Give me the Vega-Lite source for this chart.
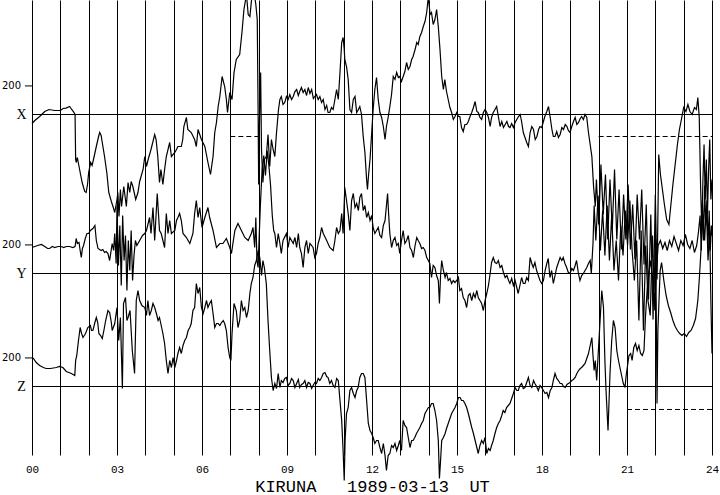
{"$schema":"https://vega.github.io/schema/vega-lite/v6.json","width":680,"height":455,"autosize":{"type":"none"},"padding":{"left":32,"top":0,"right":8,"bottom":40},"background":"white",
"config":{"view":{"stroke":null},"axisX":{"values":[0,1,2,3,4,5,6,7,8,9,10,11,12,13,14,15,16,17,18,19,20,21,22,23,24],"grid":true,"gridColor":"black","gridOpacity":1,"gridWidth":1,"domain":false,"ticks":false,"labelExpr":"datum.value % 3 === 0 ? (datum.value < 10 ? '0' + datum.value : '' + datum.value) : ''","labelFont":"Liberation Mono","labelFontSize":11,"labelColor":"black","labelPadding":8,"labelFlush":false,"labelOverlap":false,"labelBound":false,"titleFont":"Liberation Mono","titleFontSize":17,"titleFontWeight":"normal","titleColor":"black","titlePadding":4}},
"datasets":{
"X":[{"h":0,"v":-63},{"h":0.1,"v":-42},{"h":0.27,"v":-14},{"h":0.45,"v":21},{"h":0.6,"v":35},{"h":0.8,"v":28},{"h":1,"v":28},{"h":1.1,"v":42},{"h":1.2,"v":45},{"h":1.33,"v":56},{"h":1.4,"v":35},{"h":1.46,"v":21},{"h":1.52,"v":0},{"h":1.54,"v":-315},{"h":1.56,"v":-336},{"h":1.6,"v":-301},{"h":1.68,"v":-385},{"h":1.77,"v":-476},{"h":1.86,"v":-539},{"h":1.91,"v":-546},{"h":1.96,"v":-490},{"h":2,"v":-406},{"h":2.07,"v":-336},{"h":2.12,"v":-357},{"h":2.17,"v":-315},{"h":2.27,"v":-224},{"h":2.35,"v":-154},{"h":2.39,"v":-126},{"h":2.44,"v":-147},{"h":2.48,"v":-196},{"h":2.56,"v":-294},{"h":2.64,"v":-406},{"h":2.71,"v":-546},{"h":2.8,"v":-609},{"h":2.87,"v":-651},{"h":2.92,"v":-686},{"h":3,"v":-595},{"h":3.03,"v":-546},{"h":3.07,"v":-714},{"h":3.12,"v":-525},{"h":3.16,"v":-644},{"h":3.24,"v":-504},{"h":3.33,"v":-644},{"h":3.39,"v":-476},{"h":3.45,"v":-546},{"h":3.5,"v":-469},{"h":3.56,"v":-504},{"h":3.66,"v":-595},{"h":3.74,"v":-546},{"h":3.8,"v":-469},{"h":3.92,"v":-385},{"h":3.98,"v":-294},{"h":4.04,"v":-364},{"h":4.1,"v":-315},{"h":4.2,"v":-245},{"h":4.33,"v":-140},{"h":4.38,"v":-175},{"h":4.44,"v":-294},{"h":4.5,"v":-476},{"h":4.55,"v":-385},{"h":4.62,"v":-490},{"h":4.68,"v":-385},{"h":4.74,"v":-294},{"h":4.86,"v":-196},{"h":4.92,"v":-294},{"h":5.04,"v":-266},{"h":5.1,"v":-245},{"h":5.15,"v":-224},{"h":5.27,"v":-224},{"h":5.32,"v":-175},{"h":5.36,"v":-84},{"h":5.45,"v":-21},{"h":5.5,"v":-105},{"h":5.62,"v":-126},{"h":5.74,"v":-175},{"h":5.8,"v":-224},{"h":5.86,"v":-105},{"h":5.98,"v":-175},{"h":6.1,"v":-224},{"h":6.21,"v":-336},{"h":6.3,"v":-420},{"h":6.39,"v":-294},{"h":6.45,"v":-126},{"h":6.51,"v":-56},{"h":6.57,"v":56},{"h":6.63,"v":126},{"h":6.71,"v":266},{"h":6.8,"v":196},{"h":6.86,"v":105},{"h":6.9,"v":14},{"h":6.98,"v":154},{"h":7.06,"v":105},{"h":7.13,"v":294},{"h":7.21,"v":385},{"h":7.33,"v":420},{"h":7.41,"v":574},{"h":7.48,"v":735},{"h":7.57,"v":840},{"h":7.63,"v":700},{"h":7.69,"v":686},{"h":7.75,"v":805},{"h":7.82,"v":875},{"h":7.9,"v":770},{"h":7.95,"v":665},{"h":7.98,"v":35},{"h":8,"v":-490},{"h":8.03,"v":-35},{"h":8.07,"v":294},{"h":8.1,"v":-245},{"h":8.15,"v":-476},{"h":8.2,"v":-315},{"h":8.27,"v":-294},{"h":8.33,"v":-140},{"h":8.39,"v":-364},{"h":8.45,"v":-175},{"h":8.51,"v":-245},{"h":8.57,"v":-294},{"h":8.63,"v":-126},{"h":8.7,"v":35},{"h":8.75,"v":105},{"h":8.8,"v":126},{"h":8.86,"v":70},{"h":8.92,"v":84},{"h":8.98,"v":126},{"h":9.04,"v":105},{"h":9.1,"v":140},{"h":9.16,"v":105},{"h":9.22,"v":126},{"h":9.28,"v":161},{"h":9.34,"v":175},{"h":9.4,"v":133},{"h":9.45,"v":161},{"h":9.51,"v":189},{"h":9.57,"v":154},{"h":9.63,"v":175},{"h":9.69,"v":133},{"h":9.75,"v":189},{"h":9.81,"v":147},{"h":9.87,"v":175},{"h":9.93,"v":112},{"h":9.98,"v":126},{"h":10.04,"v":140},{"h":10.1,"v":105},{"h":10.16,"v":126},{"h":10.22,"v":84},{"h":10.28,"v":105},{"h":10.34,"v":35},{"h":10.4,"v":63},{"h":10.45,"v":14},{"h":10.51,"v":14},{"h":10.57,"v":49},{"h":10.63,"v":35},{"h":10.69,"v":105},{"h":10.75,"v":175},{"h":10.81,"v":105},{"h":10.87,"v":294},{"h":10.93,"v":504},{"h":10.98,"v":539},{"h":11.02,"v":455},{"h":11.04,"v":385},{"h":11.1,"v":336},{"h":11.16,"v":245},{"h":11.22,"v":35},{"h":11.28,"v":14},{"h":11.34,"v":105},{"h":11.4,"v":126},{"h":11.46,"v":14},{"h":11.52,"v":35},{"h":11.57,"v":56},{"h":11.63,"v":0},{"h":11.69,"v":-154},{"h":11.75,"v":-266},{"h":11.81,"v":-455},{"h":11.84,"v":-525},{"h":11.88,"v":-420},{"h":11.93,"v":-315},{"h":11.99,"v":-126},{"h":12.04,"v":35},{"h":12.1,"v":175},{"h":12.16,"v":259},{"h":12.22,"v":105},{"h":12.28,"v":14},{"h":12.34,"v":-21},{"h":12.4,"v":-84},{"h":12.46,"v":-175},{"h":12.51,"v":-84},{"h":12.57,"v":-21},{"h":12.63,"v":56},{"h":12.69,"v":140},{"h":12.75,"v":266},{"h":12.81,"v":245},{"h":12.87,"v":294},{"h":12.93,"v":259},{"h":12.98,"v":266},{"h":13.04,"v":231},{"h":13.1,"v":266},{"h":13.16,"v":301},{"h":13.22,"v":364},{"h":13.28,"v":315},{"h":13.34,"v":336},{"h":13.4,"v":385},{"h":13.45,"v":406},{"h":13.52,"v":455},{"h":13.58,"v":504},{"h":13.63,"v":490},{"h":13.69,"v":546},{"h":13.75,"v":574},{"h":13.81,"v":616},{"h":13.87,"v":651},{"h":13.93,"v":714},{"h":13.99,"v":826},{"h":14.05,"v":700},{"h":14.1,"v":714},{"h":14.16,"v":630},{"h":14.22,"v":665},{"h":14.28,"v":735},{"h":14.34,"v":616},{"h":14.4,"v":455},{"h":14.46,"v":266},{"h":14.52,"v":175},{"h":14.57,"v":245},{"h":14.63,"v":161},{"h":14.69,"v":105},{"h":14.75,"v":49},{"h":14.81,"v":14},{"h":14.87,"v":-35},{"h":14.93,"v":-14},{"h":14.99,"v":14},{"h":15.05,"v":-14},{"h":15.1,"v":-14},{"h":15.16,"v":-91},{"h":15.22,"v":-119},{"h":15.28,"v":-70},{"h":15.34,"v":-70},{"h":15.4,"v":-49},{"h":15.46,"v":-14},{"h":15.52,"v":14},{"h":15.58,"v":49},{"h":15.64,"v":91},{"h":15.7,"v":21},{"h":15.75,"v":14},{"h":15.81,"v":-21},{"h":15.87,"v":-35},{"h":15.93,"v":14},{"h":15.99,"v":35},{"h":16.05,"v":14},{"h":16.11,"v":-21},{"h":16.17,"v":-84},{"h":16.22,"v":-21},{"h":16.28,"v":14},{"h":16.34,"v":35},{"h":16.4,"v":56},{"h":16.46,"v":-14},{"h":16.52,"v":-84},{"h":16.58,"v":-49},{"h":16.64,"v":-91},{"h":16.7,"v":-70},{"h":16.76,"v":-49},{"h":16.82,"v":-84},{"h":16.87,"v":-91},{"h":16.93,"v":-63},{"h":16.99,"v":-91},{"h":17.05,"v":-56},{"h":17.11,"v":-35},{"h":17.17,"v":-14},{"h":17.23,"v":0},{"h":17.28,"v":-49},{"h":17.34,"v":-126},{"h":17.4,"v":-161},{"h":17.46,"v":-196},{"h":17.52,"v":-224},{"h":17.58,"v":-126},{"h":17.64,"v":-84},{"h":17.7,"v":-105},{"h":17.76,"v":-175},{"h":17.82,"v":-154},{"h":17.88,"v":-105},{"h":17.93,"v":-84},{"h":17.99,"v":-91},{"h":18.05,"v":-49},{"h":18.1,"v":-14},{"h":18.17,"v":21},{"h":18.23,"v":56},{"h":18.29,"v":-21},{"h":18.35,"v":-105},{"h":18.4,"v":-154},{"h":18.46,"v":-154},{"h":18.52,"v":-119},{"h":18.58,"v":-161},{"h":18.64,"v":-140},{"h":18.7,"v":-91},{"h":18.76,"v":-105},{"h":18.82,"v":-70},{"h":18.88,"v":-84},{"h":18.93,"v":-112},{"h":18.99,"v":-126},{"h":19.05,"v":-84},{"h":19.11,"v":-49},{"h":19.17,"v":-21},{"h":19.23,"v":-70},{"h":19.29,"v":-56},{"h":19.35,"v":-28},{"h":19.4,"v":-14},{"h":19.46,"v":-35},{"h":19.52,"v":0},{"h":19.58,"v":-21},{"h":19.64,"v":-126},{"h":19.7,"v":-210},{"h":19.76,"v":-294},{"h":19.82,"v":-504},{"h":19.88,"v":-644},{"h":19.92,"v":-455},{"h":20,"v":-770},{"h":20.08,"v":-350},{"h":20.16,"v":-700},{"h":20.24,"v":-420},{"h":20.32,"v":-875},{"h":20.4,"v":-455},{"h":20.48,"v":-805},{"h":20.56,"v":-385},{"h":20.64,"v":-875},{"h":20.72,"v":-525},{"h":20.8,"v":-945},{"h":20.88,"v":-560},{"h":20.96,"v":-875},{"h":21.04,"v":-490},{"h":21.12,"v":-945},{"h":21.2,"v":-630},{"h":21.28,"v":-1015},{"h":21.36,"v":-560},{"h":21.44,"v":-875},{"h":21.52,"v":-525},{"h":21.6,"v":-1050},{"h":21.68,"v":-630},{"h":21.76,"v":-1295},{"h":21.84,"v":-700},{"h":21.92,"v":-1435},{"h":22,"v":-560},{"h":22.06,"v":-1155},{"h":22.12,"v":-280},{"h":22.18,"v":-420},{"h":22.25,"v":-525},{"h":22.32,"v":-630},{"h":22.4,"v":-735},{"h":22.48,"v":-770},{"h":22.55,"v":-630},{"h":22.62,"v":-490},{"h":22.7,"v":-350},{"h":22.78,"v":-210},{"h":22.85,"v":-105},{"h":22.92,"v":-35},{"h":23,"v":49},{"h":23.08,"v":21},{"h":23.15,"v":70},{"h":23.22,"v":21},{"h":23.3,"v":0},{"h":23.38,"v":49},{"h":23.45,"v":35},{"h":23.5,"v":119},{"h":23.55,"v":-21},{"h":23.6,"v":-525},{"h":23.64,"v":-805},{"h":23.68,"v":-455},{"h":23.72,"v":-210},{"h":23.76,"v":-595},{"h":23.8,"v":-315},{"h":23.84,"v":-700},{"h":23.88,"v":-385},{"h":23.92,"v":-175},{"h":23.96,"v":-595},{"h":24,"v":-455}],
"Y":[{"h":0,"v":182},{"h":0.1,"v":189},{"h":0.2,"v":196},{"h":0.33,"v":203},{"h":0.45,"v":189},{"h":0.55,"v":175},{"h":0.62,"v":175},{"h":0.72,"v":189},{"h":0.8,"v":182},{"h":0.92,"v":189},{"h":1.03,"v":189},{"h":1.12,"v":182},{"h":1.21,"v":189},{"h":1.33,"v":189},{"h":1.44,"v":182},{"h":1.52,"v":189},{"h":1.56,"v":245},{"h":1.6,"v":210},{"h":1.66,"v":217},{"h":1.7,"v":161},{"h":1.74,"v":112},{"h":1.78,"v":175},{"h":1.82,"v":196},{"h":1.88,"v":245},{"h":1.94,"v":280},{"h":2,"v":280},{"h":2.06,"v":301},{"h":2.15,"v":315},{"h":2.22,"v":336},{"h":2.27,"v":231},{"h":2.33,"v":175},{"h":2.44,"v":161},{"h":2.5,"v":168},{"h":2.56,"v":147},{"h":2.62,"v":154},{"h":2.68,"v":140},{"h":2.74,"v":91},{"h":2.83,"v":210},{"h":2.88,"v":161},{"h":2.92,"v":280},{"h":2.97,"v":70},{"h":3,"v":476},{"h":3.05,"v":56},{"h":3.1,"v":336},{"h":3.15,"v":-84},{"h":3.2,"v":406},{"h":3.25,"v":91},{"h":3.3,"v":266},{"h":3.35,"v":-119},{"h":3.4,"v":231},{"h":3.45,"v":21},{"h":3.5,"v":301},{"h":3.55,"v":-49},{"h":3.6,"v":126},{"h":3.65,"v":231},{"h":3.7,"v":196},{"h":3.8,"v":231},{"h":3.9,"v":266},{"h":3.98,"v":280},{"h":4.04,"v":301},{"h":4.15,"v":392},{"h":4.2,"v":280},{"h":4.27,"v":462},{"h":4.33,"v":231},{"h":4.42,"v":560},{"h":4.5,"v":301},{"h":4.56,"v":280},{"h":4.62,"v":231},{"h":4.68,"v":182},{"h":4.74,"v":420},{"h":4.8,"v":280},{"h":4.86,"v":371},{"h":4.92,"v":280},{"h":5.04,"v":301},{"h":5.1,"v":371},{"h":5.15,"v":392},{"h":5.21,"v":420},{"h":5.27,"v":371},{"h":5.33,"v":280},{"h":5.45,"v":252},{"h":5.57,"v":210},{"h":5.68,"v":280},{"h":5.74,"v":420},{"h":5.8,"v":511},{"h":5.86,"v":392},{"h":5.92,"v":462},{"h":6,"v":322},{"h":6.1,"v":392},{"h":6.21,"v":462},{"h":6.27,"v":392},{"h":6.39,"v":301},{"h":6.51,"v":182},{"h":6.63,"v":210},{"h":6.74,"v":210},{"h":6.86,"v":245},{"h":6.98,"v":182},{"h":7.04,"v":140},{"h":7.16,"v":301},{"h":7.27,"v":350},{"h":7.39,"v":301},{"h":7.51,"v":252},{"h":7.63,"v":231},{"h":7.74,"v":280},{"h":7.8,"v":322},{"h":7.86,"v":182},{"h":7.9,"v":392},{"h":7.94,"v":91},{"h":7.98,"v":42},{"h":8.02,"v":266},{"h":8.06,"v":476},{"h":8.12,"v":721},{"h":8.18,"v":826},{"h":8.24,"v":686},{"h":8.3,"v":861},{"h":8.36,"v":756},{"h":8.42,"v":616},{"h":8.48,"v":406},{"h":8.53,"v":301},{"h":8.57,"v":280},{"h":8.63,"v":182},{"h":8.69,"v":280},{"h":8.75,"v":210},{"h":8.8,"v":140},{"h":8.86,"v":231},{"h":8.98,"v":280},{"h":9.04,"v":182},{"h":9.1,"v":252},{"h":9.22,"v":210},{"h":9.28,"v":252},{"h":9.34,"v":182},{"h":9.4,"v":280},{"h":9.45,"v":182},{"h":9.51,"v":140},{"h":9.57,"v":42},{"h":9.63,"v":182},{"h":9.69,"v":231},{"h":9.75,"v":140},{"h":9.81,"v":210},{"h":9.92,"v":182},{"h":9.98,"v":112},{"h":10.04,"v":140},{"h":10.1,"v":210},{"h":10.16,"v":252},{"h":10.22,"v":322},{"h":10.28,"v":280},{"h":10.4,"v":231},{"h":10.51,"v":182},{"h":10.63,"v":161},{"h":10.69,"v":231},{"h":10.75,"v":322},{"h":10.81,"v":280},{"h":10.87,"v":301},{"h":10.93,"v":420},{"h":10.98,"v":280},{"h":11.04,"v":602},{"h":11.1,"v":511},{"h":11.16,"v":420},{"h":11.22,"v":301},{"h":11.28,"v":511},{"h":11.34,"v":560},{"h":11.4,"v":462},{"h":11.46,"v":490},{"h":11.52,"v":441},{"h":11.57,"v":532},{"h":11.63,"v":560},{"h":11.69,"v":441},{"h":11.75,"v":476},{"h":11.81,"v":392},{"h":11.87,"v":427},{"h":11.93,"v":371},{"h":11.99,"v":406},{"h":12.04,"v":322},{"h":12.1,"v":280},{"h":12.16,"v":301},{"h":12.22,"v":322},{"h":12.28,"v":266},{"h":12.34,"v":252},{"h":12.4,"v":336},{"h":12.46,"v":371},{"h":12.51,"v":476},{"h":12.55,"v":560},{"h":12.59,"v":406},{"h":12.63,"v":280},{"h":12.69,"v":182},{"h":12.75,"v":231},{"h":12.81,"v":252},{"h":12.87,"v":196},{"h":12.93,"v":210},{"h":12.98,"v":140},{"h":13.04,"v":231},{"h":13.1,"v":301},{"h":13.16,"v":210},{"h":13.22,"v":231},{"h":13.28,"v":266},{"h":13.34,"v":182},{"h":13.4,"v":161},{"h":13.46,"v":112},{"h":13.52,"v":196},{"h":13.58,"v":252},{"h":13.63,"v":231},{"h":13.69,"v":210},{"h":13.75,"v":175},{"h":13.81,"v":182},{"h":13.87,"v":161},{"h":13.93,"v":112},{"h":13.99,"v":91},{"h":14.04,"v":70},{"h":14.1,"v":-28},{"h":14.16,"v":56},{"h":14.22,"v":42},{"h":14.28,"v":-14},{"h":14.34,"v":-49},{"h":14.38,"v":-210},{"h":14.42,"v":-14},{"h":14.46,"v":91},{"h":14.52,"v":21},{"h":14.58,"v":-28},{"h":14.63,"v":7},{"h":14.69,"v":-49},{"h":14.75,"v":-35},{"h":14.81,"v":-70},{"h":14.87,"v":-49},{"h":14.93,"v":-63},{"h":14.99,"v":-49},{"h":15.05,"v":-28},{"h":15.1,"v":-119},{"h":15.16,"v":-105},{"h":15.22,"v":-168},{"h":15.28,"v":-189},{"h":15.34,"v":-238},{"h":15.4,"v":-154},{"h":15.46,"v":-140},{"h":15.52,"v":-189},{"h":15.58,"v":-140},{"h":15.64,"v":-168},{"h":15.7,"v":-119},{"h":15.75,"v":-168},{"h":15.81,"v":-189},{"h":15.87,"v":-210},{"h":15.93,"v":-259},{"h":15.99,"v":-189},{"h":16.05,"v":-140},{"h":16.11,"v":-84},{"h":16.17,"v":0},{"h":16.22,"v":77},{"h":16.28,"v":112},{"h":16.34,"v":77},{"h":16.4,"v":70},{"h":16.46,"v":91},{"h":16.52,"v":42},{"h":16.58,"v":56},{"h":16.64,"v":7},{"h":16.7,"v":-28},{"h":16.76,"v":-14},{"h":16.82,"v":-49},{"h":16.87,"v":-70},{"h":16.93,"v":-35},{"h":16.99,"v":-84},{"h":17.05,"v":-49},{"h":17.11,"v":-98},{"h":17.16,"v":-140},{"h":17.22,"v":-84},{"h":17.28,"v":-28},{"h":17.34,"v":-70},{"h":17.4,"v":-70},{"h":17.46,"v":-28},{"h":17.52,"v":-49},{"h":17.58,"v":112},{"h":17.64,"v":70},{"h":17.69,"v":42},{"h":17.75,"v":77},{"h":17.81,"v":21},{"h":17.87,"v":-14},{"h":17.93,"v":-49},{"h":17.99,"v":-70},{"h":18.05,"v":-49},{"h":18.11,"v":21},{"h":18.17,"v":70},{"h":18.22,"v":105},{"h":18.28,"v":-28},{"h":18.34,"v":21},{"h":18.4,"v":-70},{"h":18.46,"v":-14},{"h":18.52,"v":42},{"h":18.58,"v":77},{"h":18.64,"v":112},{"h":18.7,"v":91},{"h":18.75,"v":112},{"h":18.81,"v":70},{"h":18.87,"v":42},{"h":18.93,"v":7},{"h":18.99,"v":0},{"h":19.05,"v":35},{"h":19.11,"v":21},{"h":19.17,"v":56},{"h":19.22,"v":91},{"h":19.28,"v":7},{"h":19.34,"v":-49},{"h":19.4,"v":-14},{"h":19.46,"v":0},{"h":19.52,"v":21},{"h":19.58,"v":42},{"h":19.64,"v":70},{"h":19.7,"v":91},{"h":19.74,"v":0},{"h":19.8,"v":210},{"h":19.84,"v":476},{"h":19.9,"v":231},{"h":19.98,"v":546},{"h":20.06,"v":161},{"h":20.14,"v":441},{"h":20.22,"v":126},{"h":20.3,"v":476},{"h":20.38,"v":91},{"h":20.46,"v":406},{"h":20.54,"v":21},{"h":20.62,"v":231},{"h":20.7,"v":-49},{"h":20.78,"v":336},{"h":20.86,"v":126},{"h":20.94,"v":441},{"h":21.02,"v":196},{"h":21.1,"v":511},{"h":21.18,"v":161},{"h":21.26,"v":-49},{"h":21.34,"v":231},{"h":21.42,"v":-329},{"h":21.5,"v":301},{"h":21.58,"v":-399},{"h":21.66,"v":196},{"h":21.74,"v":-189},{"h":21.82,"v":-294},{"h":21.9,"v":266},{"h":21.98,"v":-259},{"h":22.05,"v":56},{"h":22.1,"v":196},{"h":22.18,"v":231},{"h":22.26,"v":175},{"h":22.34,"v":217},{"h":22.42,"v":161},{"h":22.5,"v":231},{"h":22.58,"v":189},{"h":22.66,"v":259},{"h":22.74,"v":210},{"h":22.82,"v":161},{"h":22.9,"v":231},{"h":22.98,"v":196},{"h":23.06,"v":273},{"h":23.14,"v":203},{"h":23.22,"v":175},{"h":23.3,"v":231},{"h":23.38,"v":147},{"h":23.46,"v":196},{"h":23.52,"v":287},{"h":23.58,"v":406},{"h":23.62,"v":161},{"h":23.66,"v":511},{"h":23.7,"v":231},{"h":23.74,"v":616},{"h":23.78,"v":336},{"h":23.82,"v":511},{"h":23.86,"v":196},{"h":23.9,"v":441},{"h":23.94,"v":161},{"h":23.98,"v":336},{"h":24,"v":266}],
"Z":[{"h":0,"v":203},{"h":0.05,"v":196},{"h":0.15,"v":168},{"h":0.27,"v":147},{"h":0.4,"v":133},{"h":0.5,"v":126},{"h":0.65,"v":126},{"h":0.86,"v":133},{"h":0.97,"v":140},{"h":1.09,"v":133},{"h":1.21,"v":105},{"h":1.3,"v":98},{"h":1.39,"v":91},{"h":1.51,"v":77},{"h":1.54,"v":182},{"h":1.58,"v":217},{"h":1.64,"v":322},{"h":1.7,"v":413},{"h":1.75,"v":371},{"h":1.8,"v":343},{"h":1.89,"v":371},{"h":1.97,"v":413},{"h":2.06,"v":427},{"h":2.1,"v":392},{"h":2.15,"v":392},{"h":2.22,"v":448},{"h":2.27,"v":483},{"h":2.32,"v":448},{"h":2.36,"v":371},{"h":2.42,"v":357},{"h":2.48,"v":336},{"h":2.55,"v":406},{"h":2.6,"v":462},{"h":2.68,"v":532},{"h":2.74,"v":518},{"h":2.8,"v":448},{"h":2.83,"v":392},{"h":2.92,"v":441},{"h":3,"v":553},{"h":3.06,"v":322},{"h":3.12,"v":483},{"h":3.19,"v":-14},{"h":3.23,"v":581},{"h":3.3,"v":623},{"h":3.35,"v":462},{"h":3.39,"v":483},{"h":3.46,"v":532},{"h":3.54,"v":252},{"h":3.62,"v":91},{"h":3.68,"v":602},{"h":3.74,"v":672},{"h":3.8,"v":602},{"h":3.88,"v":567},{"h":3.98,"v":553},{"h":4.04,"v":497},{"h":4.09,"v":602},{"h":4.15,"v":497},{"h":4.21,"v":532},{"h":4.27,"v":581},{"h":4.33,"v":553},{"h":4.39,"v":511},{"h":4.45,"v":462},{"h":4.5,"v":483},{"h":4.56,"v":427},{"h":4.62,"v":371},{"h":4.68,"v":301},{"h":4.74,"v":182},{"h":4.8,"v":91},{"h":4.86,"v":182},{"h":4.92,"v":133},{"h":4.98,"v":203},{"h":5.04,"v":133},{"h":5.1,"v":182},{"h":5.15,"v":231},{"h":5.21,"v":273},{"h":5.27,"v":231},{"h":5.33,"v":287},{"h":5.39,"v":322},{"h":5.45,"v":343},{"h":5.51,"v":392},{"h":5.57,"v":413},{"h":5.62,"v":441},{"h":5.68,"v":532},{"h":5.74,"v":553},{"h":5.8,"v":721},{"h":5.86,"v":651},{"h":5.92,"v":693},{"h":5.98,"v":553},{"h":6.04,"v":511},{"h":6.1,"v":553},{"h":6.16,"v":602},{"h":6.21,"v":553},{"h":6.27,"v":581},{"h":6.33,"v":602},{"h":6.39,"v":511},{"h":6.45,"v":413},{"h":6.51,"v":441},{"h":6.57,"v":441},{"h":6.63,"v":427},{"h":6.69,"v":448},{"h":6.75,"v":462},{"h":6.8,"v":441},{"h":6.86,"v":392},{"h":6.92,"v":273},{"h":6.98,"v":203},{"h":7.02,"v":182},{"h":7.06,"v":371},{"h":7.13,"v":581},{"h":7.21,"v":532},{"h":7.27,"v":413},{"h":7.33,"v":462},{"h":7.39,"v":602},{"h":7.45,"v":532},{"h":7.51,"v":553},{"h":7.57,"v":483},{"h":7.63,"v":532},{"h":7.69,"v":651},{"h":7.74,"v":721},{"h":7.8,"v":763},{"h":7.86,"v":847},{"h":7.92,"v":882},{"h":7.98,"v":952},{"h":8.04,"v":903},{"h":8.1,"v":777},{"h":8.15,"v":882},{"h":8.2,"v":833},{"h":8.27,"v":721},{"h":8.33,"v":462},{"h":8.39,"v":252},{"h":8.45,"v":63},{"h":8.51,"v":-28},{"h":8.57,"v":21},{"h":8.63,"v":-14},{"h":8.69,"v":91},{"h":8.75,"v":-7},{"h":8.8,"v":42},{"h":8.86,"v":28},{"h":8.92,"v":56},{"h":8.98,"v":63},{"h":9.04,"v":7},{"h":9.1,"v":21},{"h":9.16,"v":56},{"h":9.22,"v":42},{"h":9.28,"v":-7},{"h":9.34,"v":21},{"h":9.4,"v":49},{"h":9.45,"v":-7},{"h":9.51,"v":14},{"h":9.57,"v":21},{"h":9.63,"v":42},{"h":9.69,"v":-7},{"h":9.75,"v":28},{"h":9.81,"v":21},{"h":9.87,"v":-14},{"h":9.92,"v":7},{"h":9.98,"v":28},{"h":10.04,"v":21},{"h":10.1,"v":56},{"h":10.16,"v":42},{"h":10.22,"v":63},{"h":10.28,"v":91},{"h":10.34,"v":98},{"h":10.4,"v":70},{"h":10.45,"v":63},{"h":10.51,"v":21},{"h":10.57,"v":42},{"h":10.63,"v":7},{"h":10.69,"v":-7},{"h":10.75,"v":56},{"h":10.81,"v":42},{"h":10.87,"v":-98},{"h":10.93,"v":-238},{"h":10.98,"v":-448},{"h":11.02,"v":-658},{"h":11.05,"v":-378},{"h":11.1,"v":-189},{"h":11.16,"v":-147},{"h":11.22,"v":-28},{"h":11.28,"v":-7},{"h":11.34,"v":-49},{"h":11.4,"v":-77},{"h":11.46,"v":-28},{"h":11.51,"v":-7},{"h":11.57,"v":63},{"h":11.63,"v":91},{"h":11.69,"v":91},{"h":11.75,"v":63},{"h":11.81,"v":-98},{"h":11.87,"v":-259},{"h":11.93,"v":-308},{"h":11.99,"v":-329},{"h":12.04,"v":-357},{"h":12.1,"v":-399},{"h":12.16,"v":-378},{"h":12.22,"v":-378},{"h":12.28,"v":-427},{"h":12.34,"v":-469},{"h":12.4,"v":-399},{"h":12.46,"v":-483},{"h":12.51,"v":-588},{"h":12.57,"v":-483},{"h":12.63,"v":-469},{"h":12.69,"v":-413},{"h":12.75,"v":-427},{"h":12.81,"v":-399},{"h":12.87,"v":-448},{"h":12.93,"v":-413},{"h":12.98,"v":-378},{"h":13.04,"v":-448},{"h":13.1,"v":-238},{"h":13.16,"v":-273},{"h":13.22,"v":-287},{"h":13.28,"v":-357},{"h":13.34,"v":-427},{"h":13.4,"v":-378},{"h":13.45,"v":-378},{"h":13.51,"v":-357},{"h":13.57,"v":-329},{"h":13.63,"v":-308},{"h":13.69,"v":-287},{"h":13.75,"v":-259},{"h":13.81,"v":-238},{"h":13.87,"v":-189},{"h":13.93,"v":-168},{"h":13.99,"v":-147},{"h":14.04,"v":-147},{"h":14.1,"v":-119},{"h":14.16,"v":-119},{"h":14.22,"v":-168},{"h":14.28,"v":-238},{"h":14.34,"v":-378},{"h":14.38,"v":-644},{"h":14.42,"v":-518},{"h":14.46,"v":-378},{"h":14.52,"v":-357},{"h":14.58,"v":-329},{"h":14.63,"v":-294},{"h":14.69,"v":-259},{"h":14.75,"v":-224},{"h":14.81,"v":-189},{"h":14.87,"v":-168},{"h":14.93,"v":-147},{"h":14.99,"v":-119},{"h":15.05,"v":-77},{"h":15.11,"v":-77},{"h":15.16,"v":-98},{"h":15.22,"v":-98},{"h":15.28,"v":-119},{"h":15.34,"v":-147},{"h":15.4,"v":-189},{"h":15.46,"v":-238},{"h":15.52,"v":-287},{"h":15.58,"v":-329},{"h":15.64,"v":-378},{"h":15.7,"v":-427},{"h":15.75,"v":-469},{"h":15.81,"v":-413},{"h":15.87,"v":-378},{"h":15.93,"v":-399},{"h":15.99,"v":-357},{"h":16.05,"v":-469},{"h":16.11,"v":-434},{"h":16.17,"v":-448},{"h":16.22,"v":-413},{"h":16.28,"v":-378},{"h":16.34,"v":-329},{"h":16.4,"v":-287},{"h":16.46,"v":-259},{"h":16.52,"v":-238},{"h":16.58,"v":-203},{"h":16.63,"v":-168},{"h":16.69,"v":-182},{"h":16.75,"v":-147},{"h":16.81,"v":-133},{"h":16.87,"v":-119},{"h":16.93,"v":-84},{"h":16.99,"v":-49},{"h":17.05,"v":-7},{"h":17.11,"v":-28},{"h":17.16,"v":-28},{"h":17.22,"v":7},{"h":17.28,"v":21},{"h":17.34,"v":-14},{"h":17.4,"v":-7},{"h":17.46,"v":28},{"h":17.52,"v":63},{"h":17.58,"v":7},{"h":17.64,"v":-7},{"h":17.7,"v":42},{"h":17.75,"v":21},{"h":17.81,"v":0},{"h":17.87,"v":-28},{"h":17.93,"v":7},{"h":17.99,"v":-7},{"h":18.05,"v":-28},{"h":18.11,"v":-49},{"h":18.17,"v":-42},{"h":18.23,"v":-77},{"h":18.29,"v":-28},{"h":18.35,"v":-7},{"h":18.4,"v":42},{"h":18.46,"v":91},{"h":18.52,"v":56},{"h":18.58,"v":42},{"h":18.64,"v":21},{"h":18.7,"v":21},{"h":18.76,"v":0},{"h":18.82,"v":-7},{"h":18.88,"v":14},{"h":18.93,"v":21},{"h":18.99,"v":28},{"h":19.05,"v":42},{"h":19.11,"v":49},{"h":19.17,"v":63},{"h":19.23,"v":91},{"h":19.29,"v":112},{"h":19.35,"v":126},{"h":19.4,"v":133},{"h":19.46,"v":147},{"h":19.52,"v":161},{"h":19.58,"v":196},{"h":19.64,"v":231},{"h":19.7,"v":287},{"h":19.76,"v":343},{"h":19.8,"v":217},{"h":19.84,"v":112},{"h":19.88,"v":182},{"h":19.93,"v":42},{"h":19.99,"v":252},{"h":20.05,"v":462},{"h":20.11,"v":672},{"h":20.17,"v":553},{"h":20.22,"v":182},{"h":20.26,"v":-28},{"h":20.33,"v":-308},{"h":20.4,"v":91},{"h":20.46,"v":322},{"h":20.52,"v":462},{"h":20.58,"v":413},{"h":20.64,"v":252},{"h":20.7,"v":182},{"h":20.75,"v":133},{"h":20.81,"v":77},{"h":20.87,"v":21},{"h":20.93,"v":-7},{"h":20.97,"v":77},{"h":21.01,"v":133},{"h":21.07,"v":217},{"h":21.13,"v":231},{"h":21.18,"v":182},{"h":21.24,"v":273},{"h":21.3,"v":301},{"h":21.36,"v":252},{"h":21.42,"v":287},{"h":21.48,"v":231},{"h":21.54,"v":217},{"h":21.6,"v":252},{"h":21.65,"v":483},{"h":21.71,"v":672},{"h":21.77,"v":791},{"h":21.83,"v":882},{"h":21.89,"v":777},{"h":21.95,"v":672},{"h":22,"v":952},{"h":22.03,"v":602},{"h":22.06,"v":-119},{"h":22.09,"v":392},{"h":22.12,"v":553},{"h":22.17,"v":812},{"h":22.22,"v":868},{"h":22.3,"v":742},{"h":22.38,"v":637},{"h":22.46,"v":567},{"h":22.54,"v":518},{"h":22.62,"v":462},{"h":22.7,"v":420},{"h":22.78,"v":392},{"h":22.86,"v":371},{"h":22.94,"v":357},{"h":23.02,"v":371},{"h":23.1,"v":350},{"h":23.18,"v":378},{"h":23.26,"v":392},{"h":23.34,"v":427},{"h":23.42,"v":476},{"h":23.5,"v":602},{"h":23.56,"v":777},{"h":23.62,"v":987},{"h":23.68,"v":1197},{"h":23.74,"v":1022},{"h":23.8,"v":1267},{"h":23.86,"v":882},{"h":23.92,"v":1092},{"h":23.96,"v":602},{"h":24,"v":231}],
"dashX":[{"h":7,"h2":8,"v":-154},{"h":20,"h2":24,"v":-154}],
"dashZ":[{"h":7,"h2":9,"v":-161},{"h":21,"h2":24,"v":-161}]
},
"layer":[
{"layer":[
{"data":{"name":"X"},"mark":{"type":"line","color":"black","strokeWidth":1.2},"encoding":{"x":{"field":"h","type":"quantitative","scale":{"domain":[0,24],"nice":false,"zero":false},"axis":{"title":"KIRUNA\u00a0\u00a0\u00a01989-03-13\u00a0\u00a0UT","labelOverlap":false}},"y":{"field":"v","type":"quantitative","scale":{"domain":[-2383.5,801.5],"nice":false,"zero":false},"axis":null}}},
{"data":{"values":[{"v":0}]},"mark":{"type":"rule","color":"black","strokeWidth":1},"encoding":{"y":{"field":"v","type":"quantitative","scale":{"domain":[-2383.5,801.5],"nice":false,"zero":false},"axis":null}}},
{"data":{"name":"dashX"},"mark":{"type":"rule","color":"black","strokeWidth":1,"strokeDash":[5,3]},"encoding":{"x":{"field":"h","type":"quantitative","scale":{"domain":[0,24],"nice":false,"zero":false},"axis":{"title":"KIRUNA\u00a0\u00a0\u00a01989-03-13\u00a0\u00a0UT","labelOverlap":false}},"x2":{"field":"h2"},"y":{"field":"v","type":"quantitative","scale":{"domain":[-2383.5,801.5],"nice":false,"zero":false},"axis":null}}},
{"data":{"values":[{"v":200,"t":"200"}]},"mark":{"type":"text","align":"right","baseline":"middle","dx":-11,"font":"DejaVu Sans","fontSize":10,"color":"black"},"encoding":{"x":{"datum":0,"type":"quantitative"},"y":{"field":"v","type":"quantitative","scale":{"domain":[-2383.5,801.5],"nice":false,"zero":false},"axis":null},"text":{"field":"t"}}},
{"data":{"values":[{"v":200}]},"mark":{"type":"rule","color":"black","strokeWidth":1,"x2Offset":-7},"encoding":{"x":{"datum":0,"type":"quantitative"},"x2":{"datum":0},"y":{"field":"v","type":"quantitative","scale":{"domain":[-2383.5,801.5],"nice":false,"zero":false},"axis":null}}},
{"data":{"values":[{"v":0,"t":"X"}]},"mark":{"type":"text","align":"center","baseline":"middle","dx":-10.5,"font":"Liberation Serif","fontSize":14,"color":"black"},"encoding":{"x":{"datum":0,"type":"quantitative"},"y":{"field":"v","type":"quantitative","scale":{"domain":[-2383.5,801.5],"nice":false,"zero":false},"axis":null},"text":{"field":"t"}}}
]},
{"layer":[
{"data":{"name":"Y"},"mark":{"type":"line","color":"black","strokeWidth":1.2},"encoding":{"x":{"field":"h","type":"quantitative","scale":{"domain":[0,24],"nice":false,"zero":false},"axis":{"title":"KIRUNA\u00a0\u00a0\u00a01989-03-13\u00a0\u00a0UT","labelOverlap":false}},"y":{"field":"v","type":"quantitative","scale":{"domain":[-1270.5,1914.5],"nice":false,"zero":false},"axis":null}}},
{"data":{"values":[{"v":0}]},"mark":{"type":"rule","color":"black","strokeWidth":1},"encoding":{"y":{"field":"v","type":"quantitative","scale":{"domain":[-1270.5,1914.5],"nice":false,"zero":false},"axis":null}}},
{"data":{"values":[{"v":200,"t":"200"}]},"mark":{"type":"text","align":"right","baseline":"middle","dx":-11,"font":"DejaVu Sans","fontSize":10,"color":"black"},"encoding":{"x":{"datum":0,"type":"quantitative"},"y":{"field":"v","type":"quantitative","scale":{"domain":[-1270.5,1914.5],"nice":false,"zero":false},"axis":null},"text":{"field":"t"}}},
{"data":{"values":[{"v":200}]},"mark":{"type":"rule","color":"black","strokeWidth":1,"x2Offset":-7},"encoding":{"x":{"datum":0,"type":"quantitative"},"x2":{"datum":0},"y":{"field":"v","type":"quantitative","scale":{"domain":[-1270.5,1914.5],"nice":false,"zero":false},"axis":null}}},
{"data":{"values":[{"v":0,"t":"Y"}]},"mark":{"type":"text","align":"center","baseline":"middle","dx":-10.5,"font":"Liberation Serif","fontSize":14,"color":"black"},"encoding":{"x":{"datum":0,"type":"quantitative"},"y":{"field":"v","type":"quantitative","scale":{"domain":[-1270.5,1914.5],"nice":false,"zero":false},"axis":null},"text":{"field":"t"}}}
]},
{"layer":[
{"data":{"name":"Z"},"mark":{"type":"line","color":"black","strokeWidth":1.2},"encoding":{"x":{"field":"h","type":"quantitative","scale":{"domain":[0,24],"nice":false,"zero":false},"axis":{"title":"KIRUNA\u00a0\u00a0\u00a01989-03-13\u00a0\u00a0UT","labelOverlap":false}},"y":{"field":"v","type":"quantitative","scale":{"domain":[-479.5,2705.5],"nice":false,"zero":false},"axis":null}}},
{"data":{"values":[{"v":0}]},"mark":{"type":"rule","color":"black","strokeWidth":1},"encoding":{"y":{"field":"v","type":"quantitative","scale":{"domain":[-479.5,2705.5],"nice":false,"zero":false},"axis":null}}},
{"data":{"name":"dashZ"},"mark":{"type":"rule","color":"black","strokeWidth":1,"strokeDash":[5,3]},"encoding":{"x":{"field":"h","type":"quantitative","scale":{"domain":[0,24],"nice":false,"zero":false},"axis":{"title":"KIRUNA\u00a0\u00a0\u00a01989-03-13\u00a0\u00a0UT","labelOverlap":false}},"x2":{"field":"h2"},"y":{"field":"v","type":"quantitative","scale":{"domain":[-479.5,2705.5],"nice":false,"zero":false},"axis":null}}},
{"data":{"values":[{"v":200,"t":"200"}]},"mark":{"type":"text","align":"right","baseline":"middle","dx":-11,"font":"DejaVu Sans","fontSize":10,"color":"black"},"encoding":{"x":{"datum":0,"type":"quantitative"},"y":{"field":"v","type":"quantitative","scale":{"domain":[-479.5,2705.5],"nice":false,"zero":false},"axis":null},"text":{"field":"t"}}},
{"data":{"values":[{"v":200}]},"mark":{"type":"rule","color":"black","strokeWidth":1,"x2Offset":-7},"encoding":{"x":{"datum":0,"type":"quantitative"},"x2":{"datum":0},"y":{"field":"v","type":"quantitative","scale":{"domain":[-479.5,2705.5],"nice":false,"zero":false},"axis":null}}},
{"data":{"values":[{"v":0,"t":"Z"}]},"mark":{"type":"text","align":"center","baseline":"middle","dx":-10.5,"font":"Liberation Serif","fontSize":14,"color":"black"},"encoding":{"x":{"datum":0,"type":"quantitative"},"y":{"field":"v","type":"quantitative","scale":{"domain":[-479.5,2705.5],"nice":false,"zero":false},"axis":null},"text":{"field":"t"}}}
]}
],
"resolve":{"scale":{"y":"independent"}}
}
